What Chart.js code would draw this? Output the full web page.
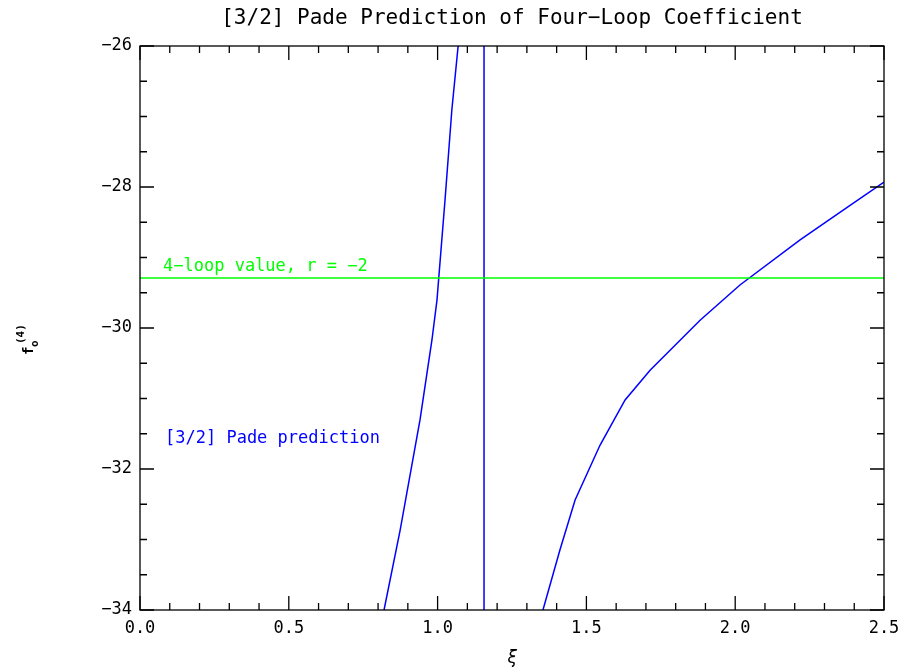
<!DOCTYPE html>
<html><head><meta charset="utf-8">
<script src="https://cdn.jsdelivr.net/npm/chart.js@4"></script>
<style>body{margin:0;background:#fff}#w{width:900px;height:669px}</style>
</head><body><div id="w"><canvas id="c"></canvas></div>
<script>
const leftX=[0.820,0.874,0.941,0.981,0.998,1.025,1.048,1.069];
const leftY=[-34,-32.87,-31.3,-30.17,-29.6,-28.18,-26.9,-26];
const rightX=[1.354,1.411,1.462,1.546,1.63,1.714,1.882,2.016,2.218,2.386,2.5];
const rightY=[-34,-33.15,-32.44,-31.66,-31.02,-30.6,-29.89,-29.39,-28.75,-28.26,-27.93];
const poleX=1.156;
const fourLoop=-29.29;
const xTicks=[0.0,0.5,1.0,1.5,2.0,2.5];
const yTicks=[-34,-32,-30,-28,-26];
const font='"DejaVu Sans Mono", monospace';
const pts=(xs,ys)=>xs.map((x,i)=>({x,y:ys[i]}));
const deco={id:'deco',afterDraw(ch){
 const c=ch.ctx,a=ch.chartArea,xs=ch.scales.x,ys=ch.scales.y;
 c.save();c.strokeStyle='#000';c.lineWidth=1.3;c.strokeRect(a.left,a.top,a.right-a.left,a.bottom-a.top);
 c.beginPath();
 for(let i=0;i<=25;i++){const v=i/10,p=xs.getPixelForValue(v),L=(i%5==0)?14:7;
  c.moveTo(p,a.bottom);c.lineTo(p,a.bottom-L);c.moveTo(p,a.top);c.lineTo(p,a.top+L);}
 for(let i=0;i<=16;i++){const v=-34+i*0.5,p=ys.getPixelForValue(v),L=(i%4==0)?14:7;
  c.moveTo(a.left,p);c.lineTo(a.left+L,p);c.moveTo(a.right,p);c.lineTo(a.right-L,p);}
 c.stroke();
 c.fillStyle='#000';c.font='17px '+font;c.textAlign='center';c.textBaseline='top';
 xTicks.forEach(v=>c.fillText(v.toFixed(1),xs.getPixelForValue(v),a.bottom+10));
 c.textAlign='right';c.textBaseline='middle';
 yTicks.forEach(v=>c.fillText('\u2212'+Math.abs(v),a.left-8,ys.getPixelForValue(v)));
 c.textAlign='center';c.textBaseline='alphabetic';c.font='21px '+font;
 c.fillText('[3/2] Pade Prediction of Four\u2212Loop Coefficient',(a.left+a.right)/2,24);
 c.font='italic 17px '+font;c.fillText('\u03be',(a.left+a.right)/2,663);
 c.save();c.translate(33,340);c.rotate(-Math.PI/2);c.font='bold 14px '+font;c.textAlign='left';
 c.fillText('f',-15,0);c.font='bold 11px '+font;c.fillText('o',-7,5);c.fillText('(4)',-4,-9);c.restore();
 c.textAlign='left';c.font='17px '+font;
 c.fillStyle='#00ff00';c.fillText('4\u2212loop value, r = \u22122',163,271);
 c.fillStyle='#0000ff';c.fillText('[3/2] Pade prediction',165,443);
 c.restore();}};
new Chart(document.getElementById('c'),{type:'scatter',
 data:{datasets:[
  {data:[{x:0,y:fourLoop},{x:2.5,y:fourLoop}],borderColor:'#00ff00'},
  {data:pts(leftX,leftY),borderColor:'#0000ff'},
  {data:[{x:poleX,y:-34},{x:poleX,y:-26}],borderColor:'#0000ff'},
  {data:pts(rightX,rightY),borderColor:'#0000ff'}]},
 options:{animation:false,responsive:true,maintainAspectRatio:false,
  layout:{padding:{left:140,right:16,top:46,bottom:59}},
  datasets:{scatter:{showLine:true,pointRadius:0,borderWidth:1.5,fill:false}},
  plugins:{legend:{display:false},tooltip:{enabled:false}},
  scales:{x:{type:'linear',min:0,max:2.5,display:false},y:{min:-34,max:-26,display:false}}},
 plugins:[deco]});
</script></body></html>
